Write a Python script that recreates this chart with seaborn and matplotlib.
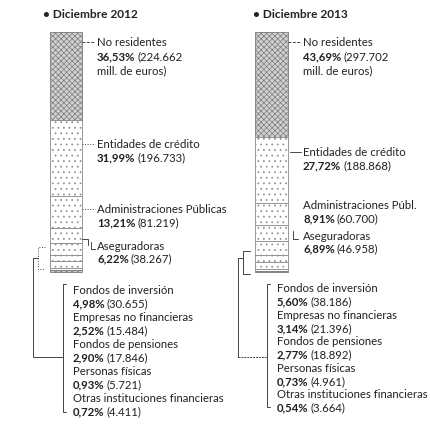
import matplotlib
matplotlib.use("Agg")
import matplotlib.pyplot as plt
import numpy as np
import pandas as pd
import seaborn as sns

# %%
periods = ["Diciembre 2012", "Diciembre 2013"]
sectors = ["No residentes", "Entidades de crédito", "Administraciones Públicas", "Aseguradoras",
           "Fondos de inversión", "Empresas no financieras", "Fondos de pensiones",
           "Personas físicas", "Otras instituciones financieras"]
pct_2012 = [36.53, 31.99, 13.21, 6.22, 4.98, 2.52, 2.90, 0.93, 0.72]
pct_2013 = [43.69, 27.72, 8.91, 6.89, 5.60, 3.14, 2.77, 0.73, 0.54]
mill_2012 = ["224.662", "196.733", "81.219", "38.267", "30.655", "15.484", "17.846", "5.721", "4.411"]
mill_2013 = ["297.702", "188.868", "60.700", "46.958", "38.186", "21.396", "18.892", "4.961", "3.664"]

# %%
rows = []
for period, pcts in zip(periods, [pct_2012, pct_2013]):
    for i, s in enumerate(sectors):
        rows.append({"Periodo": period, "Sector": s, "Pct": pcts[i], "Base": sum(pcts[i + 1:])})
df = pd.DataFrame(rows)

sns.set_style("white")
plt.rcParams["font.family"] = ["Lato", "DejaVu Sans"]
plt.rcParams["hatch.linewidth"] = 0.5

W, H = 430, 439
fig = plt.figure(figsize=(W / 100, H / 100), dpi=100)
ax = fig.add_axes([0, 0, 1, 1])

dense = {"No residentes", "Otras instituciones financieras"}
for s in sectors:
    d = df[df["Sector"] == s]
    if s in dense:
        fc, hatch, ec = "#d2d2d2", "xxxxxx", "#7a7a7a"
    else:
        fc, hatch, ec = "#ffffff", "...", "#8a8a8a"
    sns.barplot(data=d, x="Periodo", y="Pct", order=periods, bottom=d["Base"].values,
                color=fc, saturation=1, width=0.157, facecolor=fc, edgecolor=ec,
                hatch=hatch, linewidth=0.6, errorbar=None, ax=ax)

ax.set_xlim(-0.321, 1.771)
ax.set_ylim(-69.17, 113.75)
ax.axis("off")

FS = 8.2
INK = "#222222"
LN = "#444444"


def P(x, y):
    return x / W, 1 - y / H


def seg(xs, ys, ls="-", color=LN, lw=0.7):
    ax.plot([x / W for x in xs], [1 - y / H for y in ys], transform=fig.transFigure,
            color=color, lw=lw, ls=ls, clip_on=False)


def txt(x, y, s, bold=False, size=FS):
    return ax.text(*P(x, y), s, transform=fig.transFigure, fontsize=size, color=INK,
                   fontweight="bold" if bold else "normal", va="center", ha="left")


renderer = fig.canvas.get_renderer()


def pct_line(x, y, pct, rest):
    t = txt(x, y, f"{pct:.2f}%".replace(".", ","), bold=True)
    bb = t.get_window_extent(renderer)
    txt(bb.x1 + 2, y, rest)


def block(x, y, name, pct, val, step=13):
    txt(x, y, name)
    pct_line(x, y + step, pct, f"({val})")


# titles
for x, p in [(43, periods[0]), (253, periods[1])]:
    txt(x, 15, "• " + p, bold=True, size=8.6)

# ---- left column (2012)
x0 = 97
seg([82, 95], [43, 43], ls=(0, (3, 1.5)))
txt(x0, 43, sectors[0])
pct_line(x0, 57, pct_2012[0], f"({mill_2012[0]}")
txt(x0, 71, "mill. de euros)")

seg([82, 95], [145, 145], ls=":")
block(x0, 145, sectors[1], pct_2012[1], mill_2012[1])
seg([82, 95], [210, 210], ls=":")
block(x0, 210, sectors[2], pct_2012[2], mill_2012[2])
seg([82, 88, 88], [240, 240, 246])
seg([91, 91, 95], [243, 250, 250])
block(x0, 247, sectors[3], pct_2012[3], mill_2012[3], step=12)

# bracket of small sectors and list
seg([45, 38, 38, 45], [248, 248, 270, 270], ls=":")
seg([38, 33, 33, 63], [259, 259, 358, 358])
seg([66, 63, 63, 66], [285, 285, 413, 413])
for i in range(5):
    y = 291 + 26.8 * i
    block(73, y, sectors[4 + i], pct_2012[4 + i], mill_2012[4 + i], step=13.2)

# ---- right column (2013)
x1 = 303
seg([288, 300], [43, 43], ls=(0, (3, 1.5)))
txt(x1, 43, sectors[0])
pct_line(x1, 57, pct_2013[0], f"({mill_2013[0]}")
txt(x1, 71, "mill. de euros)")

seg([290, 301], [153, 153])
block(x1, 153, "Entidades de crédito", pct_2013[1], mill_2013[1])
block(x1, 206, "Administraciones Públ.", pct_2013[2], mill_2013[2])
seg([293, 293, 298], [232, 240, 240])
block(x1, 237, sectors[3], pct_2013[3], mill_2013[3], step=11.5)

seg([250, 243, 243, 250], [252, 252, 275, 275])
seg([243, 238, 238], [259, 259, 358])
seg([238, 267], [358, 358], ls=(0, (2, 1)))
seg([270, 267, 267, 270], [285, 285, 408, 408])
for i in range(5):
    y = 289 + 26.4 * i
    block(277, y, sectors[4 + i], pct_2013[4 + i], mill_2013[4 + i], step=13.2)

fig.savefig("out.png", dpi=100)
